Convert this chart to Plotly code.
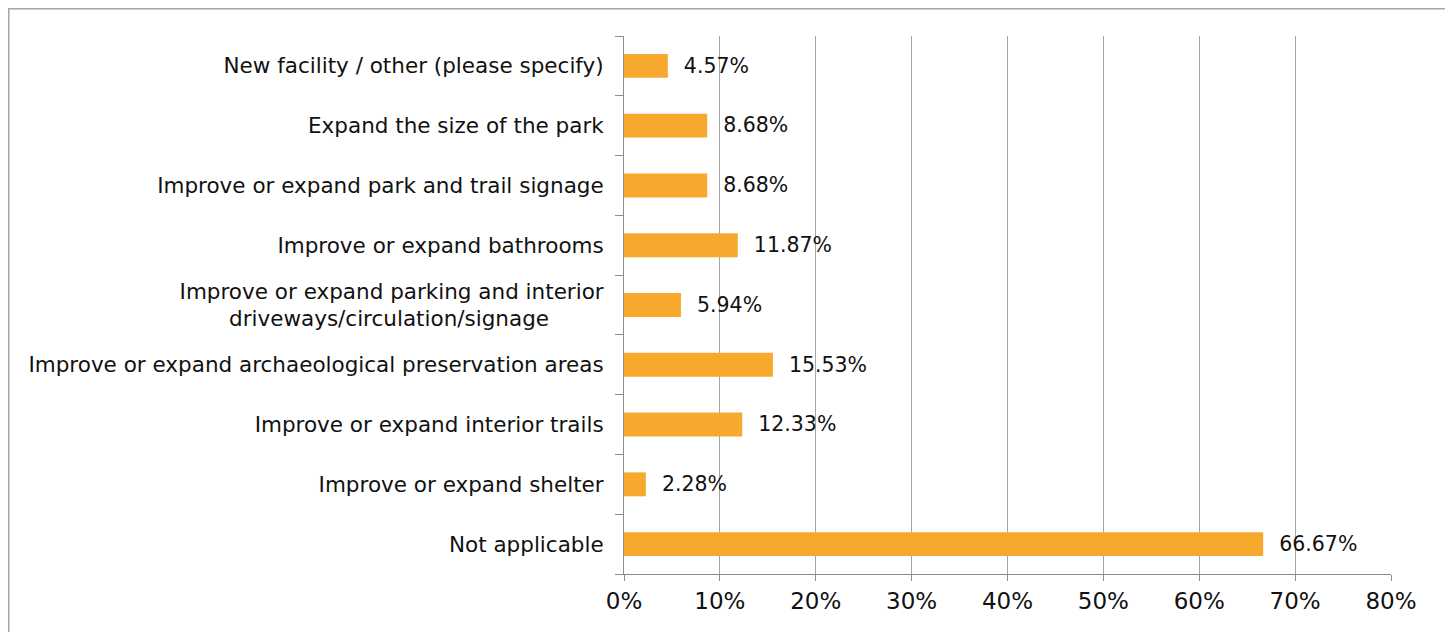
import plotly.graph_objects as go

categories = [
    "Not applicable",
    "Improve or expand shelter",
    "Improve or expand interior trails",
    "Improve or expand archaeological preservation areas",
    "Improve or expand parking and interior<br>driveways/circulation/signage" + "\u00a0" * 8,
    "Improve or expand bathrooms",
    "Improve or expand park and trail signage",
    "Expand the size of the park",
    "New facility / other (please specify)",
]
values = [66.67, 2.28, 12.33, 15.53, 5.94, 11.87, 8.68, 8.68, 4.57]
tick_vals = [0, 10, 20, 30, 40, 50, 60, 70, 80]
tick_text = [f"{v}%" for v in tick_vals]

FONT = "DejaVu Sans"
W, H = 1453, 632
# page has an 8px body margin; plot area in page coords: x 624..1391, y 36..574
OFF = 8
L, T = 624 - OFF, 36 - OFF
R = W - (1391 - OFF)
B = H - (574 - OFF)
pw, ph = W - L - R, H - T - B

def px_to_paper_x(x):
    return (x - OFF - L) / pw

def px_to_paper_y(y):
    return (H - B - (y - OFF)) / ph

fig = go.Figure(go.Bar(
    y=categories, x=values, orientation="h",
    marker=dict(color="#F6A92D", line=dict(width=0)),
    text=["  " + f"{v:.2f}%" for v in values],
    textposition="outside", cliponaxis=False,
    textfont=dict(family=FONT, size=24, color="#111111"),
    width=0.4,
))

fig.update_layout(
    width=W, height=H,
    margin=dict(l=L, r=R, t=T, b=B, pad=0),
    paper_bgcolor="white", plot_bgcolor="white",
    showlegend=False,
    font=dict(family=FONT, size=21, color="#111111"),
    xaxis=dict(range=[0, 80], tickvals=tick_vals, ticktext=tick_text,
               showgrid=True, gridcolor="#A6A6A6", gridwidth=1,
               showline=True, linecolor="#8C8C8C", linewidth=1,
               ticks="outside", ticklen=6, tickcolor="#8C8C8C",
               zeroline=False, tickfont=dict(size=23)),
    yaxis=dict(categoryorder="array", categoryarray=categories,
               showline=True, linecolor="#8C8C8C", linewidth=1,
               ticks="outside", ticklen=8, tickcolor="#8C8C8C",
               tickson="boundaries", showgrid=False, ticklabelstandoff=15,
               range=[-0.5, 8.5], tickfont=dict(size=21.5)),
    shapes=[dict(type="rect", xref="paper", yref="paper",
                 x0=px_to_paper_x(8.5), x1=px_to_paper_x(1446.5),
                 y0=px_to_paper_y(660), y1=px_to_paper_y(8.5),
                 line=dict(color="#A6A6A6", width=2), layer="below")],
)

fig.write_html("out.html")
